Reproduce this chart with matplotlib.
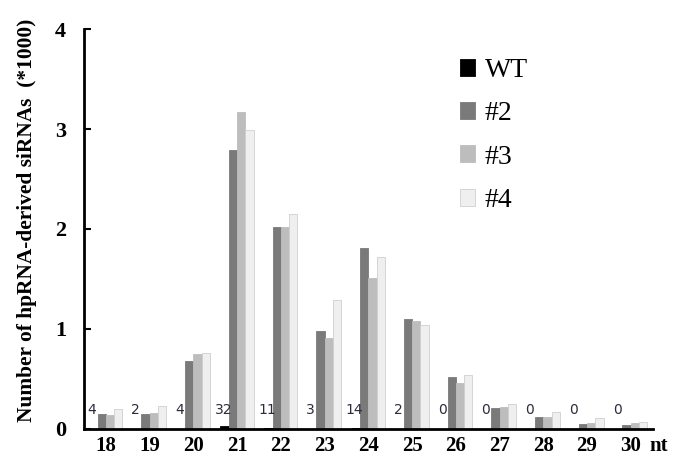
import matplotlib
matplotlib.use("Agg")
import matplotlib.pyplot as plt
import numpy as np
from matplotlib.patches import Patch

lengths = ["18", "19", "20", "21", "22", "23", "24", "25", "26", "27", "28", "29", "30"]
wt_counts = [4, 2, 4, 32, 11, 3, 14, 2, 0, 0, 0, 0, 0]
wt = [c / 1000 for c in wt_counts]
s2 = [0.15, 0.15, 0.68, 2.79, 2.02, 0.98, 1.81, 1.10, 0.52, 0.21, 0.12, 0.05, 0.04]
s3 = [0.14, 0.16, 0.75, 3.17, 2.02, 0.91, 1.51, 1.08, 0.46, 0.22, 0.12, 0.06, 0.06]
s4 = [0.20, 0.23, 0.76, 2.99, 2.15, 1.29, 1.72, 1.04, 0.54, 0.25, 0.17, 0.11, 0.07]
series_names = ["WT", "#2", "#3", "#4"]
colors = ["#000000", "#7a7a7a", "#bdbdbd", "#efefef"]
edges = ["#000000", "#7a7a7a", "#bdbdbd", "#cfcfcf"]

serif = ["Liberation Serif", "DejaVu Serif"]

fig = plt.figure(figsize=(6.73, 4.59), dpi=100)
ax = fig.add_axes([0.1248, 0.0654, 0.845, 0.8714])

x = np.arange(len(lengths))
w = 0.19
data = [wt, s2, s3, s4]
for i, (vals, c, ec) in enumerate(zip(data, colors, edges)):
    ax.bar(x + (i - 1.5) * w, vals, width=w, color=c, edgecolor=ec, linewidth=0.6)

for xi, cnt in zip(x, wt_counts):
    ax.text(xi - 1.5 * w - 0.03, 0.19, str(cnt), ha="center", va="center",
            fontsize=10, color="#2b2b3b", family=["DejaVu Sans"])

ax.set_xlim(-0.5, 12.5)
ax.set_ylim(0, 4)
ax.set_yticks([0, 1, 2, 3, 4])
ax.set_yticklabels(["0", "1", "2", "3", "4"], fontsize=16, fontweight="bold", family=serif)
ax.set_xticks(x)
ax.set_xticklabels(lengths, fontsize=15, fontweight="bold", family=serif)
ax.tick_params(axis="x", length=0, pad=5)
ax.tick_params(axis="y", direction="in", length=5, width=1.5, pad=17)
for t in ax.get_yticklabels():
    t.set_ha("center")
ax.annotate("nt", xy=(12.42, 0), xycoords="data", xytext=(0, -5),
            textcoords="offset points", ha="left", va="top",
            fontsize=15, fontweight="bold", family=serif)

for s in ["top", "right"]:
    ax.spines[s].set_visible(False)
ax.spines["left"].set_linewidth(2)
ax.spines["bottom"].set_linewidth(2)

ax.set_ylabel("Number of hpRNA-derived siRNAs  (*1000)", fontsize=15.4, fontweight="bold",
              family=serif)
ax.yaxis.set_label_coords(-0.083, 0.5225)

handles = [Patch(facecolor=c, edgecolor=ec, linewidth=0.6) for c, ec in zip(colors, edges)]
leg = ax.legend(handles, series_names, loc="upper left", bbox_to_anchor=(0.617, 0.99),
                frameon=False, prop={"family": serif, "size": 20},
                handlelength=0.55, handleheight=0.55, handletextpad=0.35, labelspacing=0.66)

fig.savefig("out.png", dpi=100)
